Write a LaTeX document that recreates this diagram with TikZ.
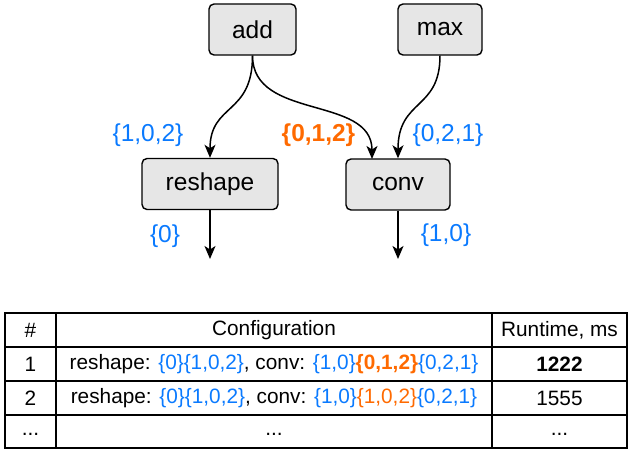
\documentclass[tikz,border=0pt]{standalone}
\usepackage{fontspec}
\setmainfont{Liberation Sans}
\usetikzlibrary{arrows.meta}
\definecolor{cblue}{RGB}{10,122,255}
\definecolor{corange}{RGB}{255,106,0}
\definecolor{cfill}{RGB}{230,230,230}
\newcommand{\bl}[1]{\textcolor{cblue}{#1}}
\newcommand{\orr}[1]{\textcolor{corange}{#1}}
\begin{document}
\begin{tikzpicture}[x=1pt,y=-1pt,
  op/.style={draw, fill=cfill, rounded corners=5pt, line width=1.4pt, minimum height=51pt, inner sep=0pt, font=\fontsize{24.5}{29}\selectfont},
  lbl/.style={inner sep=0pt, font=\fontsize{24.5}{29}\selectfont},
  edge/.style={line width=1.5pt, -{Stealth[length=13pt,width=11pt,inset=3.5pt]}},
  cell/.style={inner sep=0pt, font=\fontsize{20.8}{25}\selectfont},
  grid/.style={line width=1.5pt}]
\useasboundingbox (0,0) rectangle (633,454);
% nodes
\node[op, minimum width=87pt] (add) at (252.5,29.5) {add};
\node[op, minimum width=84pt] (max) at (440,29.5) {max};
\node[op, minimum width=136pt] (reshape) at (210,184) {reshape};
\node[op, minimum width=104pt] (conv) at (398,184.5) {conv};
\coordinate (rout) at (210,259);
\coordinate (cout) at (398,259);
\coordinate (cin) at (372,159);
% edges
\draw[edge] (add.south) .. controls +(0,60) and +(0,-55) .. (reshape.north);
\draw[edge] (add.south) .. controls +(0,65) and +(0,-64) .. (cin);
\draw[edge] (max.south) .. controls +(0,55) and +(0,-60) .. (conv.north);
\draw[edge] (reshape.south) -- (rout);
\draw[edge] (conv.south) -- (cout);
% labels
\node[lbl, text=cblue] (l1) at (148,135) {\{1,0,2\}};
\node[lbl, text=corange, font=\fontsize{24.5}{29}\selectfont\bfseries] (l2) at (318.5,135) {\{0,1,2\}};
\node[lbl, text=cblue] (l3) at (448,135) {\{0,2,1\}};
\node[lbl, text=cblue] (l4) at (165,236.5) {\{0\}};
\node[lbl, text=cblue] (l5) at (446,235.5) {\{1,0\}};
% table
\draw[grid] (5,313) rectangle (627,448);
\draw[grid] (5,347) -- (627,347);
\draw[grid] (5,381) -- (627,381);
\draw[grid] (5,415) -- (627,415);
\draw[grid] (56,313) -- (56,448);
\draw[grid] (492,313) -- (492,448);
\node[cell] (h0) at (30.5,330) {\#};
\node[cell] (h1) at (274,330) {Configuration};
\node[cell] (h2) at (559.5,330) {Runtime, ms};
\node[cell] (a0) at (30.5,364) {1};
\node[cell] (a1) at (274,364) {reshape: \bl{\{0\}\{1,0,2\}}, conv: \bl{\{1,0\}}\orr{\bfseries\{0,1,2\}}\bl{\{0,2,1\}}};
\node[cell] (a2) at (559.5,364) {\bfseries 1222};
\node[cell] (b0) at (30.5,398) {2};
\node[cell] (b1) at (274,398) {reshape: \bl{\{0\}\{1,0,2\}}, conv: \bl{\{1,0\}}\orr{\{1,0,2\}}\bl{\{0,2,1\}}};
\node[cell] (b2) at (559.5,398) {1555};
\node[cell] (c0) at (30.5,434) {...};
\node[cell] (c1) at (274,434) {...};
\node[cell] (c2) at (559.5,434) {...};
\end{tikzpicture}
\end{document}
